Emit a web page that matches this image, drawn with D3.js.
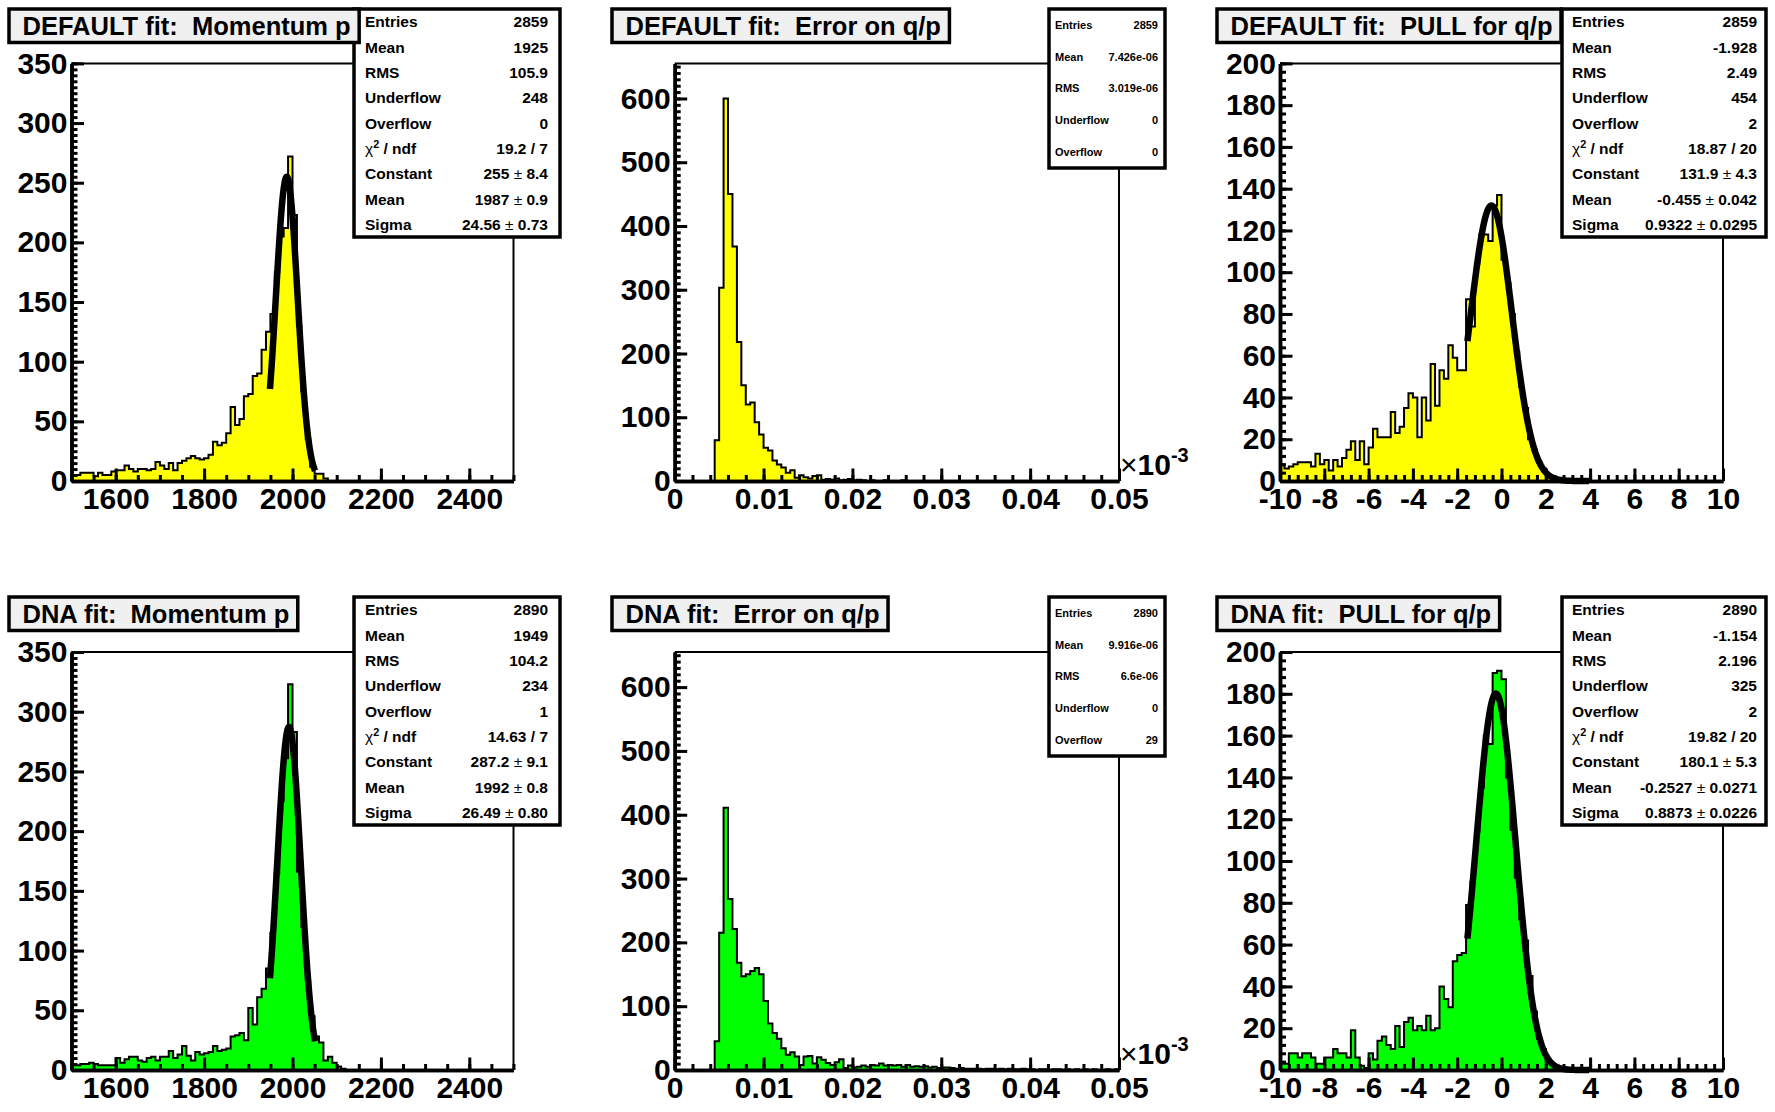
<!DOCTYPE html>
<html>
<head>
<meta charset="utf-8">
<script src="https://cdn.jsdelivr.net/npm/d3@7"></script>
<style>
  body { margin: 0; background: #fff; }
  svg text { font-family: "Liberation Sans", Arial, Helvetica, sans-serif; font-weight: bold; }
</style>
</head>
<body>
<svg id="chart" width="1775" height="1112"></svg>
<script>
// bin contents, 100 bins per histogram
const momentumDefault = [
  5,5,7,7,7,4,7,5,5,8,
  9,9,13,10,8,10,10,9,10,16,
  13,10,15,9,15,17,19,21,19,18,
  19,22,33,30,32,40,62,47,52,71,
  73,88,90,110,125,140,175,205,212,272,
  223,130,75,35,12,6,6,2,0,0,
  0,0,0,0,0,0,0,0,0,0,
  0,0,0,0,0,0,0,0,0,0,
  0,0,0,0,0,0,0,0,0,0,
  0,0,0,0,0,0,0,0,0,0];
const momentumDna = [
  4,4,5,5,6,5,4,4,4,4,
  10,6,9,11,11,8,7,10,11,8,
  11,11,16,10,13,20,12,8,15,13,
  14,15,20,16,17,18,28,29,31,25,
  52,38,61,68,85,115,165,225,261,323,
  283,166,120,75,45,28,23,8,11,6,
  3,1,0,0,0,0,0,0,0,0,
  0,0,0,0,0,0,0,0,0,0,
  0,0,0,0,0,0,0,0,0,0,
  0,0,0,0,0,0,0,0,0,0];
const errorDefault = [
  0,0,0,0,0,0,0,0,0,64,
  303,600,450,368,218,150,120,123,92,73,
  52,48,32,26,21,13,17,5,9,6,
  4,8,9,2,3,2,4,1,2,3,
  1,2,1,0,1,0,0,1,0,0,
  0,1,0,0,0,0,0,0,0,0,
  0,0,0,0,0,0,0,0,0,0,
  0,0,0,0,0,0,0,0,0,0,
  0,0,0,0,0,0,0,0,0,0,
  0,0,0,0,0,0,0,0,0,0];
const errorDna = [
  0,0,0,0,0,0,0,0,0,45,
  215,411,268,221,168,147,150,155,160,150,
  108,73,58,49,34,24,28,21,8,21,
  22,10,20,16,11,8,12,17,3,7,
  4,5,7,5,8,7,10,7,8,7,
  8,5,8,5,6,5,6,4,5,3,
  4,4,3,2,3,2,2,2,2,1,
  2,2,1,2,1,2,1,1,2,1,
  1,0,1,1,0,1,1,0,1,0,
  1,0,1,0,1,0,0,1,0,1];
const pullDefault = [
  8,6,7,8,9,9,9,7,13,8,
  10,5,10,7,11,15,19,10,19,8,
  16,25,21,21,21,33,23,26,35,42,
  40,21,40,29,56,36,53,49,65,59,
  53,53,87,74,104,118,118,115,132,137,
  106,95,80,62,45,35,20,15,9,6,
  3,2,1,0,1,0,0,0,0,0,
  0,0,0,0,0,0,0,0,0,0,
  0,0,0,0,0,0,0,0,0,0,
  0,0,0,0,0,0,0,0,0,0];
const pullDna = [
  3,3,8,8,6,8,8,6,3,3,
  6,6,10,8,8,6,19,6,2,1,
  8,5,14,16,12,10,21,11,23,25,
  19,21,19,26,19,20,40,34,30,52,
  55,56,79,90,114,135,160,156,190,191,
  187,140,115,92,72,62,45,28,15,10,
  4,3,2,1,1,0,1,0,0,0,
  0,0,0,0,0,0,0,0,0,0,
  0,0,0,0,0,0,0,0,0,0,
  0,0,0,0,0,0,0,0,0,0];

const momentumRange = [1500, 2500];
const errorRange = [0, 0.05];
const pullRange = [-10, 10];

const momentumTicks = [1600, 1800, 2000, 2200, 2400];
const errorTicks = [0, 0.01, 0.02, 0.03, 0.04, 0.05];
const pullTicks = [-10, -8, -6, -4, -2, 0, 2, 4, 6, 8, 10];
const momentumCountTicks = [0, 50, 100, 150, 200, 250, 300, 350];
const errorCountTicks = [0, 100, 200, 300, 400, 500, 600];
const pullCountTicks = [0, 20, 40, 60, 80, 100, 120, 140, 160, 180, 200];

// gaussian fit results: constant, mean, sigma
const momentumFitDefault = [255, 1987, 24.56];
const momentumFitDna = [287.2, 1992, 26.49];
const pullFitDefault = [131.9, -0.455, 0.9322];
const pullFitDna = [180.1, -0.2527, 0.8873];
const momentumFitRange = [1949, 2051];
const pullFitRange = [-1.54, 3.95];

const titles = [
  "DEFAULT fit:  Momentum p", "DEFAULT fit:  Error on q/p", "DEFAULT fit:  PULL for q/p",
  "DNA fit:  Momentum p", "DNA fit:  Error on q/p", "DNA fit:  PULL for q/p"];

const statsDefaultMomentum = [["Entries","2859"],["Mean","1925"],["RMS","105.9"],["Underflow","248"],["Overflow","0"],
  ["chi","19.2 / 7"],["Constant","255 ± 8.4"],["Mean","1987 ± 0.9"],["Sigma","24.56 ± 0.73"]];
const statsDefaultError = [["Entries","2859"],["Mean","7.426e-06"],["RMS","3.019e-06"],["Underflow","0"],["Overflow","0"]];
const statsDefaultPull = [["Entries","2859"],["Mean","-1.928"],["RMS","2.49"],["Underflow","454"],["Overflow","2"],
  ["chi","18.87 / 20"],["Constant","131.9 ± 4.3"],["Mean","-0.455 ± 0.042"],["Sigma","0.9322 ± 0.0295"]];
const statsDnaMomentum = [["Entries","2890"],["Mean","1949"],["RMS","104.2"],["Underflow","234"],["Overflow","1"],
  ["chi","14.63 / 7"],["Constant","287.2 ± 9.1"],["Mean","1992 ± 0.8"],["Sigma","26.49 ± 0.80"]];
const statsDnaError = [["Entries","2890"],["Mean","9.916e-06"],["RMS","6.6e-06"],["Underflow","0"],["Overflow","29"]];
const statsDnaPull = [["Entries","2890"],["Mean","-1.154"],["RMS","2.196"],["Underflow","325"],["Overflow","2"],
  ["chi","19.82 / 20"],["Constant","180.1 ± 5.3"],["Mean","-0.2527 ± 0.0271"],["Sigma","0.8873 ± 0.0226"]];

// pad geometry
const cols = [
  { left: 71.5, right: 513.5, titleX: 9, statsX: 354, statsW: 206, font: 15.5, padL: 11, padR: 12 },
  { left: 674.7, right: 1119, titleX: 612, statsX: 1049, statsW: 116, font: 11, padL: 6, padR: 7 },
  { left: 1280, right: 1723, titleX: 1217, statsX: 1562, statsW: 204, font: 15.5, padL: 10, padR: 9 }
];
const rows = [
  { top: 63.4, bottom: 481, boxY: 9 },
  { top: 652, bottom: 1070, boxY: 597 }
];

const FONT = '"Liberation Sans", Arial, Helvetica, sans-serif';
const svg = d3.select("#chart");
svg.append("rect").attr("width", 1775).attr("height", 1112).attr("fill", "#fff");

const panels = [
  { col: 0, row: 0, bins: momentumDefault, domain: momentumRange, ymax: 350, fill: "#ffff00",
    xMajor: momentumTicks, xMinor: d3.range(1500, 2501, 50), yMajor: momentumCountTicks, yMinor: d3.range(0, 351, 5),
    fit: momentumFitDefault, fitRange: momentumFitRange, title: titles[0], stats: statsDefaultMomentum },
  { col: 1, row: 0, bins: errorDefault, domain: errorRange, ymax: 655, fill: "#ffff00",
    xMajor: errorTicks, xMinor: d3.range(0, 0.0501, 0.002), yMajor: errorCountTicks, yMinor: d3.range(0, 651, 10),
    title: titles[1], stats: statsDefaultError, exponent: true },
  { col: 2, row: 0, bins: pullDefault, domain: pullRange, ymax: 200, fill: "#ffff00",
    xMajor: pullTicks, xMinor: d3.range(-10, 10.01, 0.4), yMajor: pullCountTicks, yMinor: d3.range(0, 201, 4),
    fit: pullFitDefault, fitRange: pullFitRange, title: titles[2], stats: statsDefaultPull },
  { col: 0, row: 1, bins: momentumDna, domain: momentumRange, ymax: 350, fill: "#00ff00",
    xMajor: momentumTicks, xMinor: d3.range(1500, 2501, 50), yMajor: momentumCountTicks, yMinor: d3.range(0, 351, 5),
    fit: momentumFitDna, fitRange: momentumFitRange, title: titles[3], stats: statsDnaMomentum },
  { col: 1, row: 1, bins: errorDna, domain: errorRange, ymax: 655, fill: "#00ff00",
    xMajor: errorTicks, xMinor: d3.range(0, 0.0501, 0.002), yMajor: errorCountTicks, yMinor: d3.range(0, 651, 10),
    title: titles[4], stats: statsDnaError, exponent: true },
  { col: 2, row: 1, bins: pullDna, domain: pullRange, ymax: 200, fill: "#00ff00",
    xMajor: pullTicks, xMinor: d3.range(-10, 10.01, 0.4), yMajor: pullCountTicks, yMinor: d3.range(0, 201, 4),
    fit: pullFitDna, fitRange: pullFitRange, title: titles[5], stats: statsDnaPull }
];

function styleAxis(sel) {
  sel.attr("font-family", FONT).attr("font-size", 30).attr("font-weight", "bold");
  sel.selectAll(".tick line").attr("stroke", "#000").attr("stroke-width", 3);
  sel.select(".domain").attr("stroke", "#000").attr("stroke-width", 3.5);
  sel.selectAll("text").attr("fill", "#000");
}

function xLabel(d) {
  if (d === 0) return "0";
  return Math.abs(d) < 1 ? d3.format(".2f")(d) : String(d);
}

function drawPanel(p) {
  const col = cols[p.col], row = rows[p.row];
  const x = d3.scaleLinear().domain(p.domain).range([col.left, col.right]);
  const y = d3.scaleLinear().domain([0, p.ymax]).range([row.bottom, row.top]);
  const g = svg.append("g");

  // thin frame on top and right
  g.append("path")
    .attr("d", `M${col.left},${row.top}H${col.right}V${row.bottom}`)
    .attr("fill", "none").attr("stroke", "#000").attr("stroke-width", 2);

  // step outline of the histogram
  const w = (p.domain[1] - p.domain[0]) / p.bins.length;
  const pts = [[p.domain[0], 0]];
  p.bins.forEach((v, i) => {
    const x0 = p.domain[0] + i * w;
    pts.push([x0, v], [x0 + w, v]);
  });
  pts.push([p.domain[1], 0]);

  g.append("path")
    .attr("d", d3.area().x(d => x(d[0])).y0(y(0)).y1(d => y(d[1]))(pts))
    .attr("fill", p.fill);
  g.append("path")
    .attr("d", d3.line().x(d => x(d[0])).y(d => y(d[1]))(pts))
    .attr("fill", "none").attr("stroke", "#000").attr("stroke-width", 2);

  // fitted gaussian
  if (p.fit) {
    const [c, m, s] = p.fit;
    const xs = d3.range(0, 201).map(i => p.fitRange[0] + i * (p.fitRange[1] - p.fitRange[0]) / 200);
    g.append("path")
      .attr("d", d3.line().x(d => x(d)).y(d => y(c * Math.exp(-0.5 * ((d - m) / s) ** 2)))(xs))
      .attr("fill", "none").attr("stroke", "#000").attr("stroke-width", 6.5)
      .attr("stroke-linejoin", "round");
  }

  // axes, ticks pointing into the frame
  g.append("g").attr("transform", `translate(0,${row.bottom})`)
    .call(d3.axisBottom(x).tickValues(p.xMinor).tickSizeInner(-6).tickSizeOuter(0).tickFormat(""))
    .call(styleAxis);
  g.append("g").attr("transform", `translate(0,${row.bottom})`)
    .call(d3.axisBottom(x).tickValues(p.xMajor).tickSizeInner(-12.5).tickSizeOuter(0).tickPadding(7).tickFormat(xLabel))
    .call(styleAxis);
  g.append("g").attr("transform", `translate(${col.left},0)`)
    .call(d3.axisLeft(y).tickValues(p.yMinor).tickSizeInner(-6).tickSizeOuter(0).tickFormat(""))
    .call(styleAxis);
  g.append("g").attr("transform", `translate(${col.left},0)`)
    .call(d3.axisLeft(y).tickValues(p.yMajor).tickSizeInner(-12.5).tickSizeOuter(0).tickPadding(4).tickFormat(d => String(d)))
    .call(styleAxis);

  if (p.exponent) {
    const t = g.append("text").attr("x", col.right + 1).attr("y", row.bottom - 6)
      .attr("font-size", 30).attr("fill", "#000");
    t.append("tspan").attr("font-weight", "normal").text("×");
    t.append("tspan").text("10");
    t.append("tspan").attr("font-size", 20).attr("dy", -13).text("-3");
  }
}

function drawStats(p) {
  const col = cols[p.col], row = rows[p.row];
  const h = p.stats.length === 9 ? 228 : 159;
  const g = svg.append("g");
  g.append("rect").attr("x", col.statsX).attr("y", row.boxY)
    .attr("width", col.statsW).attr("height", h)
    .attr("fill", "#fff").attr("stroke", "#000").attr("stroke-width", 3.5);
  const rh = h / p.stats.length;
  p.stats.forEach(([label, value], i) => {
    const cy = row.boxY + (i + 0.5) * rh;
    const lt = g.append("text").attr("x", col.statsX + col.padL).attr("y", cy).attr("dy", "0.36em")
      .attr("font-size", col.font).attr("fill", "#000");
    if (label === "chi") {
      lt.append("tspan").attr("font-weight", "normal").text("χ");
      lt.append("tspan").attr("font-size", col.font * 0.7).attr("dy", -col.font * 0.4).text("2");
      lt.append("tspan").attr("dy", col.font * 0.4).text(" / ndf");
    } else {
      lt.text(label);
    }
    const vt = g.append("text").attr("x", col.statsX + col.statsW - col.padR).attr("y", cy).attr("dy", "0.36em")
      .attr("text-anchor", "end").attr("font-size", col.font).attr("fill", "#000");
    const parts = value.split("±");
    vt.append("tspan").text(parts[0]);
    if (parts.length > 1) {
      vt.append("tspan").attr("font-weight", "normal").text("±");
      vt.append("tspan").text(parts[1]);
    }
  });
}

function drawTitle(p) {
  const col = cols[p.col], row = rows[p.row];
  const g = svg.append("g");
  const rect = g.append("rect").attr("x", col.titleX).attr("y", row.boxY).attr("height", 33.5)
    .attr("fill", "#f0f0f0").attr("stroke", "#000").attr("stroke-width", 3.5);
  const t = g.append("text").attr("x", col.titleX + 13.5).attr("y", row.boxY + 25.5)
    .attr("font-size", 25.5).attr("fill", "#000").style("white-space", "pre").text(p.title);
  rect.attr("width", t.node().getComputedTextLength() + 22);
}

panels.forEach(drawPanel);
panels.forEach(drawStats);
panels.forEach(drawTitle);
</script>
</body>
</html>
